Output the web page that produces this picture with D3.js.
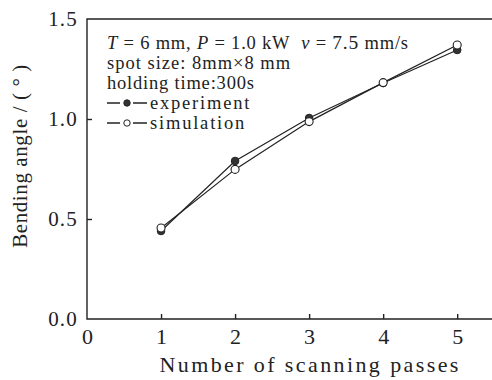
<!DOCTYPE html>
<html>
<head>
<meta charset="utf-8">
<script src="https://cdn.jsdelivr.net/npm/d3@7/dist/d3.min.js"></script>
<style>
  body { margin: 0; background: #fff; }
  svg { display: block; }
  text { font-family: "Liberation Serif", "DejaVu Serif", serif; fill: #222; }
</style>
</head>
<body>
<svg width="492" height="380"></svg>
<script>
// data
var passes = [1, 2, 3, 4, 5];
var experiment = [0.44, 0.79, 1.005, 1.18, 1.345];
var simulation = [0.455, 0.748, 0.987, 1.182, 1.37];
var xTicks = [0, 1, 2, 3, 4, 5];
var yTicks = [0.0, 0.5, 1.0, 1.5];

var svg = d3.select("svg");
var margin = {left: 87, top: 19, right: 0, bottom: 61};
var width = 492 - margin.left - margin.right;
var height = 380 - margin.top - margin.bottom;

var x = d3.scaleLinear().domain([0, 5.47]).range([0, width]);
var y = d3.scaleLinear().domain([0, 1.5]).range([height, 0]);

var g = svg.append("g")
    .attr("transform", "translate(" + margin.left + "," + margin.top + ")");

// frame: left, top, bottom (right side runs off the picture)
g.append("path")
    .attr("d", "M" + (width + 5) + ",0H0V" + height + "H" + (width + 5))
    .attr("fill", "none")
    .attr("stroke", "#222")
    .attr("stroke-width", 1.4);

// ticks point inward
var xAxis = g.append("g")
    .attr("transform", "translate(0," + height + ")")
    .call(d3.axisBottom(x).tickValues(xTicks).tickSizeInner(-5).tickSizeOuter(0).tickPadding(9)
        .tickFormat(d3.format("d")));
xAxis.select(".domain").remove();
xAxis.selectAll("line").filter(function(d) { return d === 0; }).remove();
xAxis.selectAll("line").attr("stroke", "#222").attr("stroke-width", 1.4);
xAxis.selectAll("text").style("font-size", "22px").style("font-family", "Liberation Serif").attr("fill", "#222");

var yAxis = g.append("g")
    .call(d3.axisLeft(y).tickValues(yTicks).tickSizeInner(-5).tickSizeOuter(0).tickPadding(9)
        .tickFormat(d3.format(".1f")));
yAxis.select(".domain").remove();
yAxis.selectAll("line").filter(function(d) { return d === 0 || d === 1.5; }).remove();
yAxis.selectAll("line").attr("stroke", "#222").attr("stroke-width", 1.4);
yAxis.selectAll("text").style("font-size", "21px").style("letter-spacing", "1.2px")
    .style("font-family", "Liberation Serif").attr("fill", "#222");

// axis titles
svg.append("text")
    .attr("x", margin.left + x(3) + 1)
    .attr("y", 372)
    .attr("text-anchor", "middle")
    .style("font-size", "22px")
    .style("letter-spacing", "2.4px")
    .text("Number of scanning passes");

svg.append("text")
    .attr("transform", "translate(27,156) rotate(-90)")
    .attr("text-anchor", "middle")
    .style("font-size", "21px")
    .style("letter-spacing", "0.6px")
    .text("Bending angle / ( \u00b0 )");

// series
var line = d3.line()
    .x(function(d, i) { return x(passes[i]); })
    .y(function(d) { return y(d); });

g.append("path").datum(experiment)
    .attr("d", line).attr("fill", "none").attr("stroke", "#222").attr("stroke-width", 1.2);
g.append("path").datum(simulation)
    .attr("d", line).attr("fill", "none").attr("stroke", "#222").attr("stroke-width", 1.2);

g.selectAll(".exp").data(experiment).enter().append("circle")
    .attr("class", "exp")
    .attr("cx", function(d, i) { return x(passes[i]); })
    .attr("cy", function(d) { return y(d); })
    .attr("r", 3.8)
    .attr("fill", "#333")
    .attr("stroke", "#222");
g.selectAll(".sim").data(simulation).enter().append("circle")
    .attr("class", "sim")
    .attr("cx", function(d, i) { return x(passes[i]); })
    .attr("cy", function(d) { return y(d); })
    .attr("r", 4)
    .attr("fill", "#fff")
    .attr("stroke", "#222")
    .attr("stroke-width", 1.1);

// annotation text
var note = svg.append("g").attr("transform", "translate(107,0)");
var l1 = note.append("text").attr("y", 49).style("font-size", "18.5px").style("letter-spacing", "0.8px");
l1.append("tspan").style("font-style", "italic").text("T");
l1.append("tspan").text(" = 6 mm, ");
l1.append("tspan").style("font-style", "italic").text("P");
l1.append("tspan").text(" = 1.0 kW\u00a0\u00a0");
l1.append("tspan").style("font-style", "italic").text("v");
l1.append("tspan").text(" = ");
l1.append("tspan").style("font-size", "19.5px").text("7.5");
l1.append("tspan").text(" mm/s");

note.append("text").attr("y", 69).style("font-size", "18.5px").style("letter-spacing", "1px")
    .text("spot size: 8mm\u00d78 mm");
note.append("text").attr("y", 89).style("font-size", "18.5px").style("letter-spacing", "0.8px")
    .text("holding time:300s");

var legend = [
  {name: "experiment", fill: "#333", y: 109},
  {name: "simulation", fill: "#fff", y: 129}
];
legend.forEach(function(d) {
  var lg = note.append("g").attr("transform", "translate(0," + (d.y - 6) + ")");
  lg.append("line").attr("x1", 0).attr("x2", 13).attr("stroke", "#222").attr("stroke-width", 1.5);
  lg.append("line").attr("x1", 26).attr("x2", 40).attr("stroke", "#222").attr("stroke-width", 1.5);
  lg.append("circle").attr("cx", 20).attr("r", 3.2).attr("fill", d.fill).attr("stroke", "#222");
  note.append("text").attr("x", 43).attr("y", d.y).style("font-size", "18.5px")
      .style("letter-spacing", "1.8px").text(d.name);
});
</script>
</body>
</html>
